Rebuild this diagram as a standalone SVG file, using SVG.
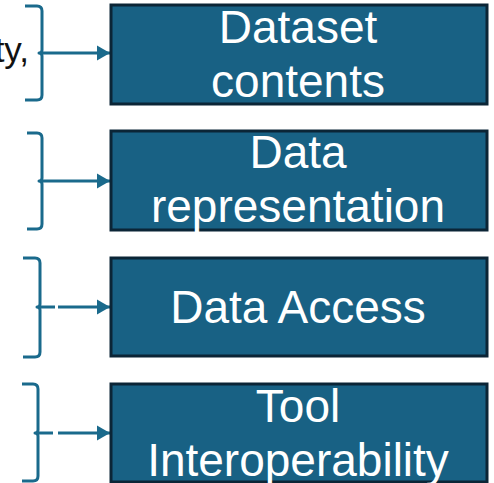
<svg xmlns="http://www.w3.org/2000/svg" width="494" height="483" viewBox="0 0 494 483">
<defs>
<marker id="ah" markerUnits="userSpaceOnUse" markerWidth="14" markerHeight="16" refX="13" refY="8" orient="auto">
<path d="M0,0.5 L13,8 L0,15.5 Z" fill="#1a6a8c"/>
</marker>
<style>
.box{fill:#186184;stroke:#0b2536;stroke-width:3}
.lbl{font-family:"Liberation Sans",Arial,sans-serif;font-size:46px;fill:#ffffff;text-anchor:middle}
.br{fill:none;stroke:#1a6a8c;stroke-width:3;stroke-linecap:butt;stroke-linejoin:round}
.ar{fill:none;stroke:#1a6a8c;stroke-width:3}
</style>
</defs>
<rect width="494" height="483" fill="#ffffff"/>
<text x="29" y="62" font-family="'Liberation Sans',Arial,sans-serif" font-size="35" fill="#111111" text-anchor="end">ty,</text>
<g id="connectors">
<path class="br" d="M25,6 L37,6 Q42,6 42,11 V50 Q42,53 39,53 Q42,53 42,56 V95 Q42,100 37,100 L25,100"/>
<line class="ar" x1="42" y1="53" x2="110" y2="53" marker-end="url(#ah)"/>
<path class="br" d="M27,133 L37,133 Q42,133 42,138 V178 Q42,181 39,181 Q42,181 42,184 V224 Q42,229 37,229 L27,229"/>
<line class="ar" x1="42" y1="181" x2="110" y2="181" marker-end="url(#ah)"/>
<path class="br" d="M23,258 L35,258 Q40,258 40,263 V304 Q40,307 37,307 Q40,307 40,310 V352 Q40,357 35,357 L23,357"/>
<line class="ar" x1="40" y1="307" x2="55" y2="307"/>
<line class="ar" x1="58" y1="307" x2="110" y2="307" marker-end="url(#ah)"/>
<path class="br" d="M22,384 L33,384 Q38,384 38,389 V430 Q38,433 35,433 Q38,433 38,436 V476 Q38,481 33,481 L22,481"/>
<line class="ar" x1="38" y1="433" x2="53" y2="433"/>
<line class="ar" x1="58" y1="433" x2="110" y2="433" marker-end="url(#ah)"/>
</g>
<g id="node-dataset-contents">
<rect class="box" x="111" y="5" width="376" height="99"/>
<text class="lbl" x="298" y="43">Dataset</text>
<text class="lbl" x="298" y="97">contents</text>
</g>
<g id="node-data-representation">
<rect class="box" x="111" y="131" width="376" height="99"/>
<text class="lbl" x="298" y="168">Data</text>
<text class="lbl" x="298" y="222">representation</text>
</g>
<g id="node-data-access">
<rect class="box" x="111" y="258" width="376" height="98"/>
<text class="lbl" x="298" y="323">Data Access</text>
</g>
<g id="node-tool-interoperability">
<rect class="box" x="111" y="384" width="376" height="98"/>
<text class="lbl" x="298" y="422">Tool</text>
<text class="lbl" x="298" y="476">Interoperability</text>
</g>
</svg>
